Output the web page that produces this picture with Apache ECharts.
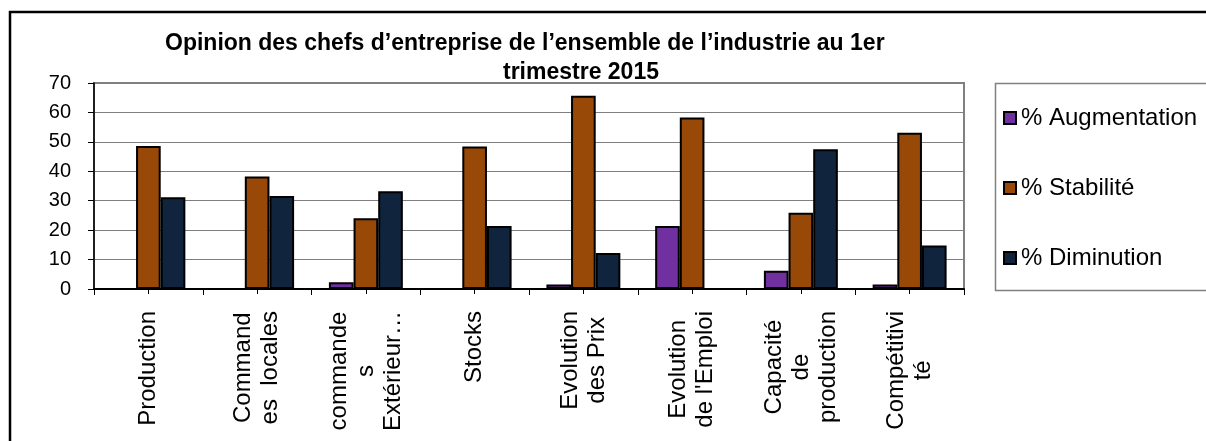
<!DOCTYPE html>
<html>
<head>
<meta charset="utf-8">
<script src="https://cdn.jsdelivr.net/npm/echarts@6/dist/echarts.min.js"></script>
<style>
  html, body { margin: 0; padding: 0; background: #fff; }
  #chart { width: 1206px; height: 441px; }
</style>
</head>
<body>
<div id="chart"></div>
<script>
const categories = [
  "Production",
  "Command\nes  locales",
  "commande\ns\nExtérieur…",
  "Stocks",
  "Evolution\ndes Prix",
  "Evolution\nde l'Emploi",
  "Capacité\nde\nproduction",
  "Compétitivi\nté",
];
const augmentation = [0, 0, 2.3, 0, 1.5, 21.4, 6.2, 1.5];
const stabilite = [48.6, 38.2, 24.0, 48.4, 65.7, 58.3, 25.9, 53.1];
const diminution = [31.2, 31.6, 33.2, 21.4, 12.2, 0, 47.5, 14.8];
const yTicks = { min: 0, max: 70, interval: 10 };

const font = "'Liberation Sans', Arial, sans-serif";
const colors = ["#7030A0", "#984807", "#10243E"];

const chart = echarts.init(document.getElementById("chart"));

const barStyle = (color) => ({ color, borderColor: "#000", borderWidth: 2 });
const titleStyle = { fontFamily: font, fontSize: 23, fontWeight: "bold", color: "#000" };

chart.setOption({
  animation: false,
  textStyle: { fontFamily: font },
  title: [
    {
      text: "Opinion des chefs d\u2019entreprise de l\u2019ensemble de l\u2019industrie au 1er",
      left: 165,
      top: 32,
      padding: 0,
      textStyle: titleStyle,
    },
    {
      text: "trimestre 2015",
      left: 503,
      top: 61,
      padding: 0,
      textStyle: titleStyle,
    },
  ],
  legend: {
    orient: "vertical",
    left: 1003,
    top: 106,
    padding: 0,
    itemWidth: 12,
    itemHeight: 12,
    itemGap: 46,
    icon: "rect",
    itemStyle: { borderColor: "#000", borderWidth: 2 },
    textStyle: { fontFamily: font, fontSize: 24, lineHeight: 24, color: "#000" },
  },
  grid: {
    left: 94,
    right: 242,
    top: 83,
    bottom: 152,
    show: true,
    borderColor: "#808080",
    borderWidth: 2,
  },
  xAxis: [
    {
      type: "category",
      data: categories,
      axisLine: { lineStyle: { color: "#000", width: 2 } },
      axisTick: { show: true, length: 6, lineStyle: { color: "#000" } },
      axisLabel: {
        interval: 0,
        rotate: 90,
        margin: 22,
        formatter: (v) => v.split("\n").map((s) => "{c|" + s + "}").join("\n"),
        rich: {
          c: { align: "center", fontFamily: font, fontSize: 24, lineHeight: 27, color: "#000" },
        },
      },
    },
    {
      type: "category",
      data: categories,
      position: "bottom",
      offset: -5,
      axisLine: { show: false },
      axisTick: { show: true, alignWithLabel: true, length: 10, lineStyle: { color: "#000" } },
      axisLabel: { show: false },
    },
  ],
  yAxis: {
    type: "value",
    min: yTicks.min,
    max: yTicks.max,
    interval: yTicks.interval,
    axisLine: { show: true, lineStyle: { color: "#000", width: 1.5 } },
    axisTick: { show: true, length: 6, lineStyle: { color: "#000" } },
    axisLabel: { fontFamily: font, fontSize: 20, color: "#000", margin: 23 },
    splitLine: { lineStyle: { color: "#7f7f7f", width: 1 } },
  },
  series: [
    {
      name: "% Augmentation",
      type: "bar",
      data: augmentation,
      barGap: "0%",
      barCategoryGap: "32%",
      itemStyle: barStyle(colors[0]),
    },
    {
      name: "% Stabilité",
      type: "bar",
      data: stabilite,
      itemStyle: barStyle(colors[1]),
    },
    {
      name: "% Diminution",
      type: "bar",
      data: diminution,
      itemStyle: barStyle(colors[2]),
    },
  ],
  graphic: [
    {
      type: "rect",
      silent: true,
      shape: { x: 10, y: 12, width: 1300, height: 600 },
      style: { fill: null, stroke: "#000", lineWidth: 2.5 },
    },
    {
      type: "rect",
      silent: true,
      shape: { x: 995.5, y: 83.5, width: 300, height: 207 },
      style: { fill: null, stroke: "#808080", lineWidth: 1.5 },
    },
  ],
});
</script>
</body>
</html>
